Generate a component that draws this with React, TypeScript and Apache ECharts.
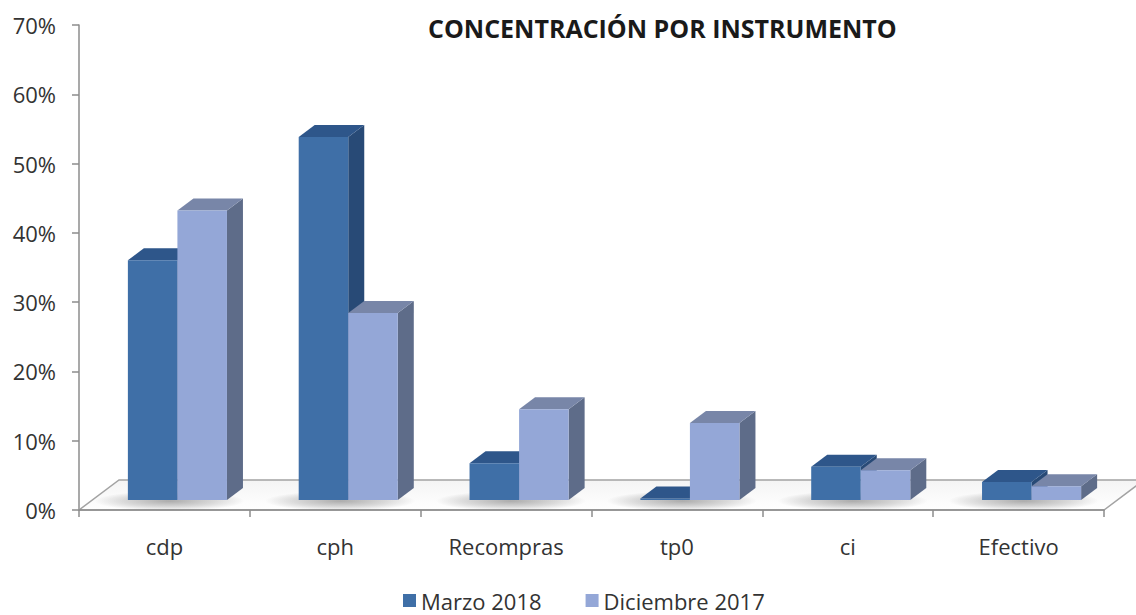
import React, { useEffect, useRef } from "react";
import * as echarts from "echarts";

const categories = ["cdp", "cph", "Recompras", "tp0", "ci", "Efectivo"];
const marzo2018 = [34.6, 52.4, 5.3, 0.2, 4.8, 2.6];
const diciembre2017 = [41.8, 27.0, 13.1, 11.1, 4.3, 2.0];
const seriesNames = ["Marzo 2018", "Diciembre 2017"];
const yMax = 70;
const yStep = 10;

const FONT = "Open Sans";
// projection constants
const BASE_OX = 13;
const BASE_OY = -10;
const DEPTH_X = 16;
const DEPTH_Y = -12;
const FLOOR_X = 40;
const FLOOR_Y = -30;

const palette = [
  { front: "#3f6fa7", top: "#2e568a", side: "#284a76" },
  { front: "#94a7d7", top: "#7886a8", side: "#5e6c89" },
];

function barRenderer(sideIdx: number) {
  const col = palette[sideIdx];
  return (params: any, api: any) => {
    const ci = api.value(0);
    const v = api.value(1);
    const base = api.coord([ci, 0]);
    const top = api.coord([ci, v]);
    const catW = api.size([1, 0])[0];
    const bw = catW * 0.29;
    const x0 = base[0] + BASE_OX + (sideIdx === 0 ? -bw : 0);
    const x1 = x0 + bw;
    const yb = base[1] + BASE_OY;
    const yt = top[1] + BASE_OY;
    return {
      type: "group",
      children: [
        {
          type: "polygon",
          shape: { points: [[x1, yt], [x1 + DEPTH_X, yt + DEPTH_Y], [x1 + DEPTH_X, yb + DEPTH_Y], [x1, yb]] },
          style: { fill: col.side },
        },
        {
          type: "polygon",
          shape: { points: [[x0, yt], [x1, yt], [x1 + DEPTH_X, yt + DEPTH_Y], [x0 + DEPTH_X, yt + DEPTH_Y]] },
          style: { fill: col.top },
        },
        {
          type: "rect",
          shape: { x: x0, y: yt, width: bw, height: Math.max(0, yb - yt) },
          style: { fill: col.front },
        },
      ],
    };
  };
}

function floorRenderer(params: any, api: any) {
  const ci = api.value(0);
  const catW = api.size([1, 0])[0];
  const c = api.coord([ci, 0]);
  const children: any[] = [];
  if (ci === 0) {
    const last = api.coord([categories.length - 1, 0]);
    const L = c[0] - catW / 2;
    const R = last[0] + catW / 2;
    const y0 = c[1];
    children.push({
      type: "polygon",
      shape: { points: [[L, y0], [R, y0], [R + FLOOR_X, y0 + FLOOR_Y], [L + FLOOR_X, y0 + FLOOR_Y]] },
      style: {
        fill: new echarts.graphic.LinearGradient(0, 0, 0, 1, [
          { offset: 0, color: "#f4f4f4" },
          { offset: 1, color: "#ffffff" },
        ]),
        stroke: "#a3a3a3",
        lineWidth: 1.5,
      },
      z2: 0,
    });
  }
  // soft shadow under each bar group
  children.push({
    type: "ellipse",
    shape: { cx: c[0] + BASE_OX - 8, cy: c[1] + BASE_OY + 1, rx: catW * 0.44, ry: 10 },
    style: {
      fill: new echarts.graphic.RadialGradient(0.5, 0.5, 0.5, [
        { offset: 0, color: "rgba(0,0,0,0.32)" },
        { offset: 0.6, color: "rgba(0,0,0,0.14)" },
        { offset: 1, color: "rgba(0,0,0,0)" },
      ]),
    },
    z2: 1,
  });
  return { type: "group", children };
}

export default function App() {
  const ref = useRef<HTMLDivElement>(null);
  useEffect(() => {
    if (!ref.current) return;
    const chart = echarts.init(ref.current, null, { renderer: "svg" });
    chart.setOption({
      animation: false,
      backgroundColor: "#ffffff",
      textStyle: { fontFamily: FONT },
      title: {
        text: "CONCENTRACIÓN POR INSTRUMENTO",
        left: 423,
        top: 10,
        textStyle: { fontFamily: FONT, fontSize: 25, fontWeight: "bold", color: "#1a1a1a" },
      },
      legend: {
        data: seriesNames,
        left: 403,
        top: 589,
        padding: 0,
        icon: "rect",
        itemWidth: 13,
        itemHeight: 13,
        itemGap: 44,
        textStyle: { fontFamily: FONT, fontSize: 22, color: "#333333", lineHeight: 23 },
      },
      grid: { left: 79, right: 32, top: 25, bottom: 105 },
      xAxis: {
        type: "category",
        data: categories,
        axisLine: { show: true, lineStyle: { color: "#8c8c8c", width: 1.5 } },
        axisTick: { show: true, length: 7, lineStyle: { color: "#8c8c8c", width: 1.5 } },
        axisLabel: { margin: 25, fontFamily: FONT, fontSize: 22, color: "#333333" },
        splitLine: { show: false },
        z: 5,
      },
      yAxis: {
        type: "value",
        min: 0,
        max: yMax,
        interval: yStep,
        axisLine: { show: true, lineStyle: { color: "#8c8c8c", width: 1.5 } },
        axisTick: { show: true, length: 7, lineStyle: { color: "#8c8c8c", width: 1.5 } },
        axisLabel: { margin: 23, formatter: "{value}%", fontFamily: FONT, fontSize: 22, color: "#333333" },
        splitLine: { show: false },
      },
      series: [
        {
          type: "custom",
          name: "floor",
          z: 1,
          renderItem: floorRenderer,
          data: categories.map((_, i) => [i, 0]),
          silent: true,
        },
        {
          type: "custom",
          name: seriesNames[0],
          z: 2,
          itemStyle: { color: palette[0].front },
          renderItem: barRenderer(0),
          data: marzo2018.map((v, i) => [i, v]),
        },
        {
          type: "custom",
          name: seriesNames[1],
          z: 3,
          itemStyle: { color: palette[1].front },
          renderItem: barRenderer(1),
          data: diciembre2017.map((v, i) => [i, v]),
        },
      ],
    });
    return () => chart.dispose();
  }, []);
  return <div ref={ref} style={{ position: "absolute", left: 0, top: 0, width: 1136, height: 615 }} />;
}
